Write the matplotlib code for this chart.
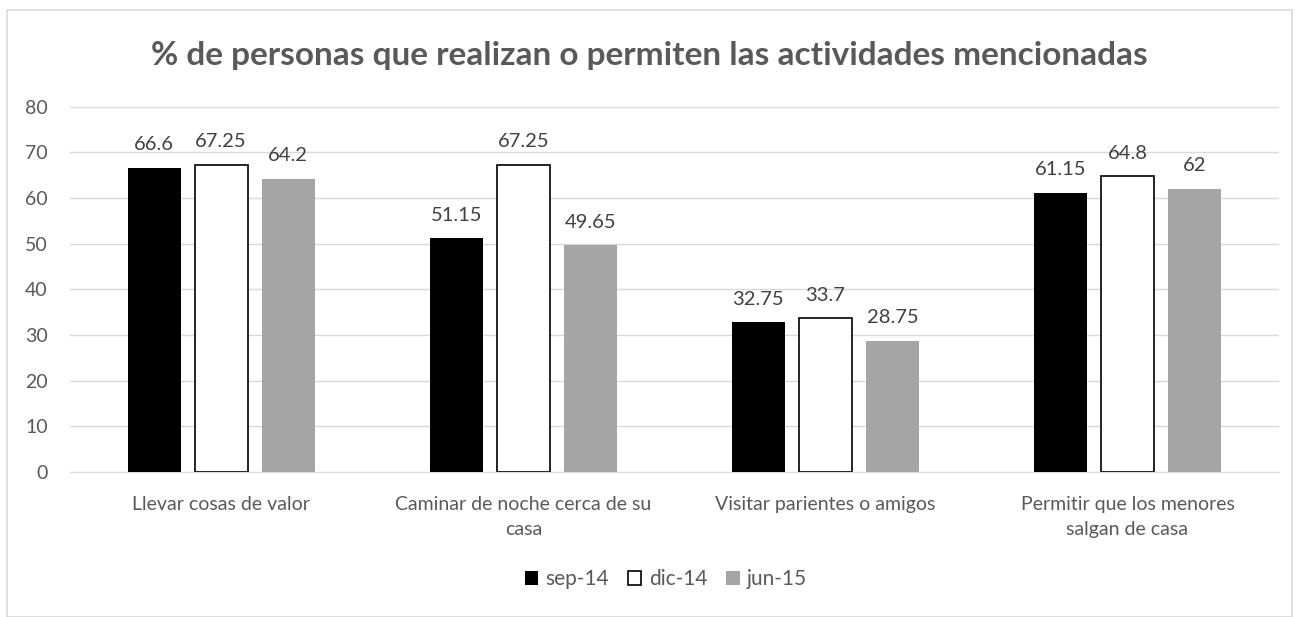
import numpy as np
import matplotlib.pyplot as plt
from matplotlib.patches import Rectangle

plt.rcParams['font.family'] = ['Lato', 'DejaVu Sans']

categories = ['Llevar cosas de valor', 'Caminar de noche cerca de su\ncasa',
              'Visitar parientes o amigos', 'Permitir que los menores\nsalgan de casa']
series = ['sep-14', 'dic-14', 'jun-15']
sep14 = [66.6, 51.15, 32.75, 61.15]
dic14 = [67.25, 67.25, 33.7, 64.8]
jun15 = [64.2, 49.65, 28.75, 62]

fig = plt.figure(figsize=(12.98, 6.17), dpi=100)
ax = fig.add_axes([0.054, 0.235, 0.931, 0.592])

x = np.arange(len(categories))
w = 0.175
off = 0.222
styles = [dict(color='black'),
          dict(facecolor='white', edgecolor='black', linewidth=1.2),
          dict(color='#a5a5a5')]
for i, (vals, st) in enumerate(zip([sep14, dic14, jun15], styles)):
    bars = ax.bar(x + (i - 1) * off, vals, w, label=series[i], zorder=3, **st)
    for b, v in zip(bars, vals):
        ax.text(b.get_x() + b.get_width() / 2, v + 3.2, f'{v:g}', ha='center', va='bottom',
                fontsize=14.5, color='#404040')

ax.set_xlim(-0.5, 3.5)
ax.set_ylim(0, 80)
ax.set_yticks(range(0, 81, 10))
ax.yaxis.grid(True, color='#d9d9d9', linewidth=1, zorder=0)
ax.set_xticks(x)
ax.set_xticklabels(categories, fontsize=14, color='#595959', linespacing=1.6)
ax.tick_params(axis='y', labelsize=14, labelcolor='#595959', length=0, pad=16)
ax.tick_params(axis='x', length=0, pad=17)
for s in ['top', 'right', 'left']:
    ax.spines[s].set_visible(False)
ax.spines['bottom'].set_color('#d9d9d9')

fig.text(0.5, 0.91, '% de personas que realizan o permiten las actividades mencionadas',
         ha='center', va='center', fontsize=24, fontweight='bold', color='#595959')

ax.legend(loc='upper center', bbox_to_anchor=(0.493, -0.215), ncol=3, frameon=False,
          fontsize=15, labelcolor='#595959', handlelength=0.65, handleheight=0.65,
          handletextpad=0.35, columnspacing=0.9)

fig.patches.append(Rectangle((0.0054, 0.0), 0.99, 0.984, transform=fig.transFigure,
                             fill=False, edgecolor='#d9d9d9', linewidth=1.2))

fig.savefig('out.png', dpi=100)
